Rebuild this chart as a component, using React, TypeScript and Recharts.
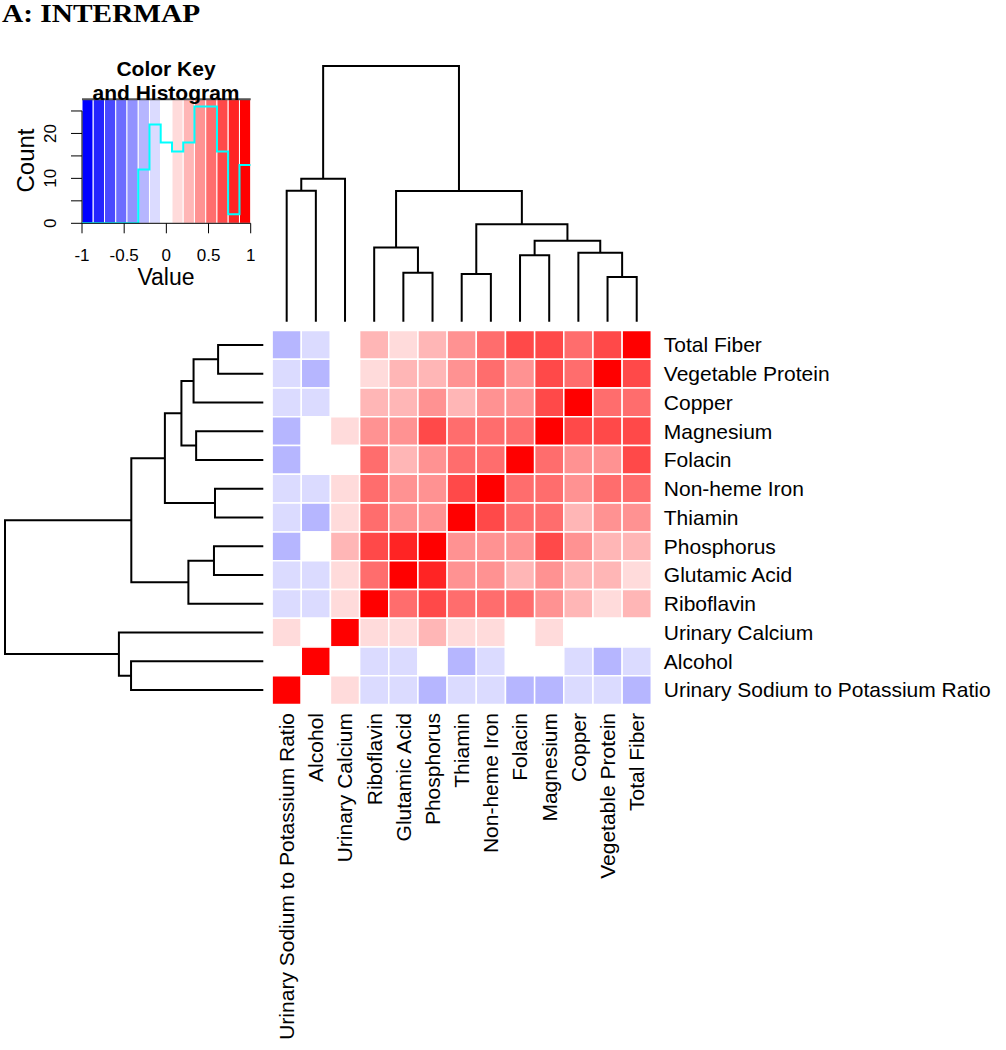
import React from "react";
import {
  ComposedChart,
  XAxis,
  YAxis,
  Scatter,
  Line,
  ReferenceArea,
  ReferenceLine,
} from "recharts";

const SANS = "'Liberation Sans', Arial, sans-serif";
const SERIF = "'Liberation Serif', 'Times New Roman', serif";

// heatmap rows, top to bottom
const rowLabels = [
  "Total Fiber",
  "Vegetable Protein",
  "Copper",
  "Magnesium",
  "Folacin",
  "Non-heme Iron",
  "Thiamin",
  "Phosphorus",
  "Glutamic Acid",
  "Riboflavin",
  "Urinary Calcium",
  "Alcohol",
  "Urinary Sodium to Potassium Ratio",
];

// heatmap columns, left to right
const colLabels = [
  "Urinary Sodium to Potassium Ratio",
  "Alcohol",
  "Urinary Calcium",
  "Riboflavin",
  "Glutamic Acid",
  "Phosphorus",
  "Thiamin",
  "Non-heme Iron",
  "Folacin",
  "Magnesium",
  "Copper",
  "Vegetable Protein",
  "Total Fiber",
];

// correlations, one row per rowLabels entry, columns in colLabels order
const corr = [
  [-0.27, -0.13, 0, 0.27, 0.13, 0.27, 0.4, 0.53, 0.67, 0.67, 0.53, 0.67, 1],
  [-0.13, -0.27, 0, 0.13, 0.27, 0.27, 0.4, 0.53, 0.4, 0.67, 0.53, 1, 0.67],
  [-0.13, -0.13, 0, 0.27, 0.27, 0.4, 0.27, 0.4, 0.4, 0.67, 1, 0.53, 0.53],
  [-0.27, 0, 0.13, 0.4, 0.4, 0.67, 0.53, 0.53, 0.53, 1, 0.67, 0.67, 0.67],
  [-0.27, 0, 0, 0.53, 0.27, 0.4, 0.53, 0.53, 1, 0.53, 0.4, 0.4, 0.67],
  [-0.13, -0.13, 0.13, 0.53, 0.4, 0.4, 0.67, 1, 0.53, 0.53, 0.4, 0.53, 0.53],
  [-0.13, -0.27, 0.13, 0.53, 0.4, 0.4, 1, 0.67, 0.53, 0.53, 0.27, 0.4, 0.4],
  [-0.27, 0, 0.27, 0.67, 0.8, 1, 0.4, 0.4, 0.4, 0.67, 0.4, 0.27, 0.27],
  [-0.13, -0.13, 0.13, 0.53, 1, 0.8, 0.4, 0.4, 0.27, 0.4, 0.27, 0.27, 0.13],
  [-0.13, -0.13, 0.13, 1, 0.53, 0.67, 0.53, 0.53, 0.53, 0.4, 0.27, 0.13, 0.27],
  [0.13, 0, 1, 0.13, 0.13, 0.27, 0.13, 0.13, 0, 0.13, 0, 0, 0],
  [0, 1, 0, -0.13, -0.13, 0, -0.27, -0.13, 0, 0, -0.13, -0.27, -0.13],
  [1, 0, 0.13, -0.13, -0.13, -0.27, -0.13, -0.13, -0.27, -0.27, -0.13, -0.13, -0.27],
];

// colour key
const keyBreaks = [
  -1, -0.867, -0.733, -0.6, -0.467, -0.333, -0.2, -0.067, 0.067, 0.2, 0.333,
  0.467, 0.6, 0.733, 0.867, 1,
];
const keyColors = [
  "#0000FF", "#2424FF", "#4949FF", "#6D6DFF", "#9292FF", "#B6B6FF", "#DBDBFF",
  "#FFFFFF", "#FFDBDB", "#FFB6B6", "#FF9292", "#FF6D6D", "#FF4949", "#FF2424",
  "#FF0000",
];
const histCounts = [0, 0, 0, 0, 0, 12, 22, 18, 16, 18, 26, 26, 16, 2, 13];
const keyXTicks = [-1, -0.5, 0, 0.5, 1];
const keyYTicks = [0, 5, 10, 15, 20, 25];

// clustering: [left, right, height]; strings are leaves, numbers earlier merges
const dendroMerges: [string | number, string | number, number][] = [
  ["Vegetable Protein", "Total Fiber", 0.175],
  ["Thiamin", "Non-heme Iron", 0.187],
  ["Glutamic Acid", "Phosphorus", 0.191],
  ["Folacin", "Magnesium", 0.26],
  ["Copper", 0, 0.27],
  ["Riboflavin", 2, 0.29],
  [3, 4, 0.317],
  [1, 6, 0.381],
  [5, 7, 0.511],
  ["Urinary Sodium to Potassium Ratio", "Alcohol", 0.512],
  [9, "Urinary Calcium", 0.559],
  [10, 8, 1.0],
];

// layout (page pixels)
const HEAT_L = 272.1;
const HEAT_R = 651.3;
const HEAT_T = 330.6;
const HEAT_B = 704.4;
const KEY_L = 82;
const KEY_R = 250.7;
const KEY_T = 99.3;
const KEY_B = 223.3;
const KEY_TOP_COUNT = 27.6;

const colorFor = (v: number) => {
  for (let i = 0; i < keyColors.length; i++) {
    if (v < keyBreaks[i + 1]) return keyColors[i];
  }
  return keyColors[keyColors.length - 1];
};

function buildDendro(leafPos: (name: string) => number) {
  const nodes: { pos: number; h: number }[] = [];
  const segs: { p: number; h: number }[][] = [];
  const get = (ref: string | number) =>
    typeof ref === "number" ? nodes[ref] : { pos: leafPos(ref), h: 0 };
  dendroMerges.forEach(([a, b, h]) => {
    const A = get(a);
    const B = get(b);
    segs.push([
      { p: A.pos, h: A.h },
      { p: A.pos, h },
      { p: B.pos, h },
      { p: B.pos, h: B.h },
    ]);
    nodes.push({ pos: (A.pos + B.pos) / 2, h });
  });
  return segs;
}

const topSegs = buildDendro((n) => colLabels.indexOf(n) + 1).map((s) =>
  s.map((d) => ({ x: d.p, y: d.h }))
);
const leftSegs = buildDendro((n) => rowLabels.indexOf(n) + 1).map((s) =>
  s.map((d) => ({ x: d.h, y: d.p }))
);

const cells = corr.flatMap((row, r) =>
  row.map((v, c) => ({ x: c + 1, y: r + 1, v }))
);

const histLine = keyBreaks.map((b, i) => ({
  x: b,
  c: histCounts[Math.min(i, histCounts.length - 1)],
}));

const noShape = () => <g />;
const lineStyle = { stroke: "#000", strokeWidth: 2, fill: "none" };
const idx = Array.from({ length: 13 }, (_, i) => i + 1);

const RowTick = ({ y, payload }: any) => (
  <text
    x={HEAT_R + 12.5}
    y={y}
    dy="0.35em"
    fontSize={21}
    fontFamily={SANS}
    fill="#000"
  >
    {rowLabels[payload.value - 1]}
  </text>
);

const ColTick = ({ x, payload }: any) => (
  <text
    transform={`translate(${x},${HEAT_B + 8.6}) rotate(-90)`}
    textAnchor="end"
    dy="0.35em"
    fontSize={21}
    fontFamily={SANS}
    fill="#000"
  >
    {colLabels[payload.value - 1]}
  </text>
);

const KeyYTick = ({ y, payload }: any) => (
  <g>
    <line x1={KEY_L - 11} x2={KEY_L} y1={y} y2={y} stroke="#000" />
    {payload.value % 10 === 0 && (
      <text
        transform={`translate(50,${y}) rotate(-90)`}
        textAnchor="middle"
        dy="0.35em"
        fontSize={17}
        fontFamily={SANS}
        fill="#000"
      >
        {payload.value}
      </text>
    )}
  </g>
);

const KeyXTick = ({ x, payload }: any) => (
  <g>
    <line x1={x} x2={x} y1={KEY_B} y2={KEY_B + 10} stroke="#000" />
    <text
      x={x}
      y={261}
      textAnchor="middle"
      fontSize={17}
      fontFamily={SANS}
      fill="#000"
    >
      {payload.value}
    </text>
  </g>
);

export default function App() {
  return (
    <div
      style={{
        position: "absolute",
        left: 0,
        top: 0,
        width: 1006,
        height: 1050,
        background: "#fff",
        fontFamily: SANS,
      }}
    >
      {/* Colour key with histogram */}
      <div style={{ position: "absolute", left: 0, top: 0 }}>
        <ComposedChart
          width={300}
          height={300}
          data={histLine}
          margin={{ top: KEY_T, right: 300 - KEY_R, bottom: 0, left: 0 }}
        >
          <XAxis
            dataKey="x"
            type="number"
            domain={[-1, 1]}
            ticks={keyXTicks}
            interval={0}
            height={300 - KEY_B}
            axisLine={{ stroke: "#000" }}
            tickLine={false}
            tick={<KeyXTick />}
            allowDataOverflow
          />
          <YAxis
            type="number"
            domain={[0, KEY_TOP_COUNT]}
            ticks={keyYTicks}
            interval={0}
            width={KEY_L}
            axisLine={false}
            tickLine={false}
            tick={<KeyYTick />}
            allowDataOverflow
          />
          {keyColors.map((col, i) => (
            <ReferenceArea
              key={col}
              x1={keyBreaks[i]}
              x2={keyBreaks[i + 1]}
              y1={0}
              y2={KEY_TOP_COUNT}
              fill={col}
              fillOpacity={1}
              stroke="#fff"
              strokeWidth={1}
              ifOverflow="visible"
            />
          ))}
          <ReferenceLine
            segment={[
              { x: -1, y: 0 },
              { x: -1, y: 25 },
            ]}
            stroke="#000"
            ifOverflow="visible"
          />
          <ReferenceLine
            y={KEY_TOP_COUNT}
            stroke="#555"
            strokeWidth={2}
            ifOverflow="visible"
          />
          <Line
            dataKey="c"
            type="stepAfter"
            stroke="#00FFFF"
            strokeWidth={2}
            dot={false}
            isAnimationActive={false}
          />
        </ComposedChart>
      </div>

      {/* Column dendrogram */}
      <div style={{ position: "absolute", left: 0, top: 0 }}>
        <ComposedChart
          width={1006}
          height={330}
          margin={{ top: 66, right: 1006 - HEAT_R, bottom: 8.3, left: HEAT_L }}
        >
          <XAxis type="number" dataKey="x" domain={[0.5, 13.5]} hide />
          <YAxis type="number" dataKey="y" domain={[0, 1]} hide />
          {topSegs.map((seg, i) => (
            <Scatter
              key={i}
              data={seg}
              line={lineStyle}
              shape={noShape}
              fill="none"
              isAnimationActive={false}
            />
          ))}
        </ComposedChart>
      </div>

      {/* Row dendrogram */}
      <div style={{ position: "absolute", left: 0, top: 0 }}>
        <ComposedChart
          width={272}
          height={720}
          margin={{ top: HEAT_T, right: 272 - 263.3, bottom: 720 - HEAT_B, left: 5 }}
        >
          <XAxis type="number" dataKey="x" domain={[0, 1]} reversed hide />
          <YAxis
            type="number"
            dataKey="y"
            domain={[0.5, 13.5]}
            reversed
            hide
          />
          {leftSegs.map((seg, i) => (
            <Scatter
              key={i}
              data={seg}
              line={lineStyle}
              shape={noShape}
              fill="none"
              isAnimationActive={false}
            />
          ))}
        </ComposedChart>
      </div>

      {/* Heatmap */}
      <div style={{ position: "absolute", left: 0, top: 0 }}>
        <ComposedChart
          width={1006}
          height={1050}
          data={cells}
          margin={{ top: HEAT_T, right: 0, bottom: 0, left: HEAT_L }}
        >
          <XAxis
            type="number"
            dataKey="x"
            domain={[0.5, 13.5]}
            ticks={idx}
            height={1050 - HEAT_B}
            axisLine={false}
            tickLine={false}
            tick={<ColTick />}
            interval={0}
          />
          <YAxis
            type="number"
            dataKey="y"
            orientation="right"
            domain={[0.5, 13.5]}
            reversed
            ticks={idx}
            width={1006 - HEAT_R}
            axisLine={false}
            tickLine={false}
            tick={<RowTick />}
            interval={0}
          />
          {cells.map((d) => (
            <ReferenceArea
              key={`${d.x}-${d.y}`}
              x1={d.x - 0.5}
              x2={d.x + 0.5}
              y1={d.y - 0.5}
              y2={d.y + 0.5}
              fill={colorFor(d.v)}
              fillOpacity={1}
              stroke="#fff"
              strokeWidth={1.5}
            />
          ))}
          <Scatter
            dataKey="y"
            shape={noShape}
            fill="none"
            isAnimationActive={false}
          />
        </ComposedChart>
      </div>

      {/* Titles */}
      <svg
        width={1006}
        height={1050}
        style={{ position: "absolute", left: 0, top: 0, pointerEvents: "none" }}
      >
        <text
          transform="translate(2,22) scale(1.13,1)"
          fontFamily={SERIF}
          fontWeight="bold"
          fontSize={26}
          fill="#000"
        >
          A: INTERMAP
        </text>
        <text
          x={166}
          y={76}
          textAnchor="middle"
          fontFamily={SANS}
          fontWeight="bold"
          fontSize={21}
          fill="#000"
        >
          Color Key
        </text>
        <text
          x={166}
          y={100}
          textAnchor="middle"
          fontFamily={SANS}
          fontWeight="bold"
          fontSize={21}
          fill="#000"
        >
          and Histogram
        </text>
        <text
          transform="translate(26,160.5) rotate(-90)"
          textAnchor="middle"
          dy="0.35em"
          fontFamily={SANS}
          fontSize={24}
          fill="#000"
        >
          Count
        </text>
        <text
          x={166}
          y={285}
          textAnchor="middle"
          fontFamily={SANS}
          fontSize={23}
          fill="#000"
        >
          Value
        </text>
      </svg>
    </div>
  );
}
